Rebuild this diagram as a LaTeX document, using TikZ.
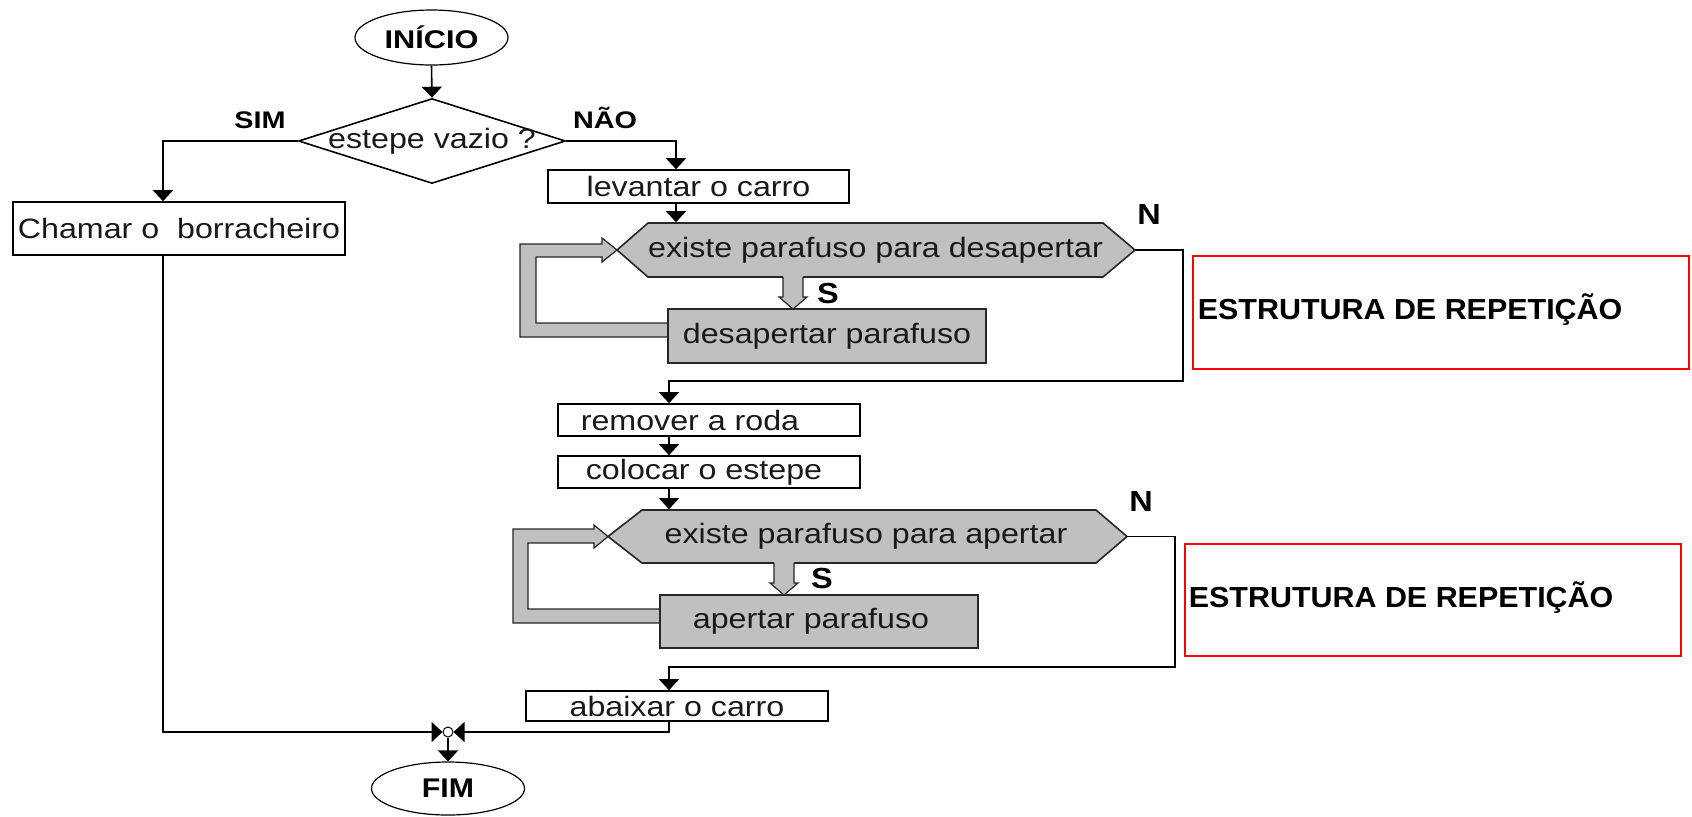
\documentclass[tikz,border=0pt]{standalone}
\usepackage{fontspec}
\setmainfont{Liberation Sans}
\newfontfamily\regf[FakeStretch=1.15]{Liberation Sans}
\newfontfamily\bldA[FakeStretch=1.2]{Liberation Sans}
\newfontfamily\bldB[FakeStretch=1.12]{Liberation Sans}
\newfontfamily\bldC[FakeStretch=1.05]{Liberation Sans}
\usetikzlibrary{arrows.meta,shapes.geometric,calc}
\definecolor{boxgray}{HTML}{C0C0C0}
\definecolor{redbox}{HTML}{FF0000}
\begin{document}
\begin{tikzpicture}[x=0.5pt,y=-0.5pt,
 line width=0.8pt,
 arr/.style={-{Triangle[width=10pt,length=5.5pt]}},
 txt/.style={font=\regf\fontsize{14}{16}\selectfont, text=black!90},
 proc/.style={draw, rectangle, inner sep=0pt, txt},
 gproc/.style={proc, fill=boxgray, draw=black!85},
 term/.style={draw, ellipse, inner sep=0pt, line width=0.6pt},
 lblA/.style={font=\bldA\bfseries\fontsize{12}{14}\selectfont, inner sep=0pt},
 lblB/.style={font=\bldB\bfseries\fontsize{14.5}{16}\selectfont, inner sep=0pt},
 note/.style={font=\bldC\bfseries\fontsize{14.5}{16}\selectfont, inner sep=0pt, anchor=west},
 redr/.style={draw=redbox, line width=1pt, inner sep=0pt},
 band/.style={fill=boxgray, draw=black!85, line width=0.6pt},
 hex/.style={fill=boxgray, draw=black!85, line width=0.8pt}
]
\useasboundingbox (0,0) rectangle (1692,816);

% loop bands (drawn first)
\draw[band] (668,323) -- (536,323) -- (536,257) -- (602,257) -- (602,262) -- (617,250) -- (602,238) -- (602,244) -- (520,244) -- (520,337) -- (668,337) -- cycle;
\draw[band] (660,609) -- (528,609) -- (528,543) -- (594,543) -- (594,548) -- (608,536.5) -- (594,525) -- (594,529) -- (513,529) -- (513,623) -- (660,623) -- cycle;

% hexagons
\draw[hex] (617,250) -- (648,223) -- (1103,223) -- (1135,250) -- (1103,277) -- (648,277) -- cycle;
\draw[hex] (608,536.5) -- (642,510) -- (1096,510) -- (1127,536.5) -- (1096,563) -- (642,563) -- cycle;
\coordinate (h1w) at (617,250);
\coordinate (h1e) at (1135,250);
\coordinate (h2w) at (608,536.5);
\coordinate (h2e) at (1127,536.5);

% S hollow arrows
\fill[boxgray] (783,276) -- (783,297) -- (779,297) -- (793,309) -- (807,297) -- (803,297) -- (803,276) -- cycle;
\draw[line width=0.6pt, black!85] (783,277) -- (783,297) -- (779,297) -- (793,309) -- (807,297) -- (803,297) -- (803,277);
\fill[boxgray] (774,562) -- (774,583) -- (770,583) -- (784,595) -- (798,583) -- (794,583) -- (794,562) -- cycle;
\draw[line width=0.6pt, black!85] (774,563) -- (774,583) -- (770,583) -- (784,595) -- (798,583) -- (794,583) -- (794,563);

% nodes
\node[term, font=\bldA\bfseries\fontsize{12.8}{14}\selectfont, minimum width=76.5pt, minimum height=27.5pt] (ini) at (431.5,37.5) {INÍCIO};
\node[draw, diamond, inner sep=0pt, minimum width=133.5pt, minimum height=42.5pt] (dia) at (432,141) {};
\node[txt, inner sep=0pt] (diat) at (432,141) {estepe vazio ?};
\node[proc, minimum width=150.5pt, minimum height=16.5pt] (lev) at (698.5,186.5) {levantar o carro};
\node[proc, minimum width=166pt, minimum height=26.5pt] (cha) at (179,228.5) {Chamar o\ \ borracheiro};
\node[txt, inner sep=0pt, minimum width=227.5pt, minimum height=27pt] (h1) at (875.5,250) {existe parafuso para desapertar};
\node[gproc, minimum width=159pt, minimum height=27pt] (des) at (827,336) {desapertar parafuso};
\node[proc, minimum width=151pt, minimum height=16pt] (rem) at (709,420) {remover a roda\hspace*{19pt}};
\node[proc, minimum width=151pt, minimum height=16pt] (col) at (709,472) {colocar o estepe\hspace*{5pt}};
\node[txt, inner sep=0pt, minimum height=26.5pt] (h2) at (866,536.5) {existe parafuso para apertar};
\node[gproc, minimum width=159pt, minimum height=26.5pt] (ape) at (819,621.5) {apertar parafuso\hspace*{8pt}};
\node[proc, minimum width=151pt, minimum height=15pt] (aba) at (677,706) {abaixar o carro};
\node[circle, draw, fill=white, inner sep=0pt, minimum size=5pt, line width=0.5pt] (jn) at (448,732) {};
\node[term, font=\bldB\bfseries\fontsize{13.5}{15}\selectfont, minimum width=76.5pt, minimum height=26.5pt] (fim) at (448,788.5) {FIM};

% red boxes and notes
\node[redr, minimum width=248pt, minimum height=56.5pt] (r1) at (1441,312.5) {};
\node[redr, minimum width=248pt, minimum height=56pt] (r2) at (1433,600) {};
\node[note] (t1) at (1197,310) {ESTRUTURA DE REPETIÇÃO};
\node[note] (t2) at (1188,598) {ESTRUTURA DE REPETIÇÃO};

% labels
\node[lblA] (sim) at (260,120) {SIM};
\node[lblA] (nao) at (605,118) {NÃO};
\node[lblB] (n1) at (1149,215) {N};
\node[lblB] (n2) at (1141,502) {N};
\node[lblB] (s1) at (828,294) {S};
\node[lblB] (s2) at (822,579) {S};

% columns and corners
\coordinate (cL) at (163,0);
\coordinate (cR) at (676,0);
\coordinate (cM) at (669,0);
\coordinate (k1) at (1183,381);
\coordinate (k2) at (1175,667);

% connectors
\draw[arr] (ini.south) -- (dia.north);
\draw[arr] (dia.west) -| (cL |- cha.north);
\draw[arr] (dia.east) -| (cR |- lev.north);
\draw[arr] (cR |- lev.south) -- (cR |- h1.north);
\draw[arr] (h1e) -| (k1) -| (cM |- rem.north);
\draw[arr] (cM |- rem.south) -- (cM |- col.north);
\draw[arr] (cM |- col.south) -- (cM |- h2.north);
\draw[arr] (h2e) -| (k2) -| (cM |- aba.north);
\draw[arr] (cL |- cha.south) |- (jn.west);
\draw[arr] (cM |- aba.south) |- (jn.east);
\draw[arr] (jn.south) -- (fim.north);
\end{tikzpicture}
\end{document}
